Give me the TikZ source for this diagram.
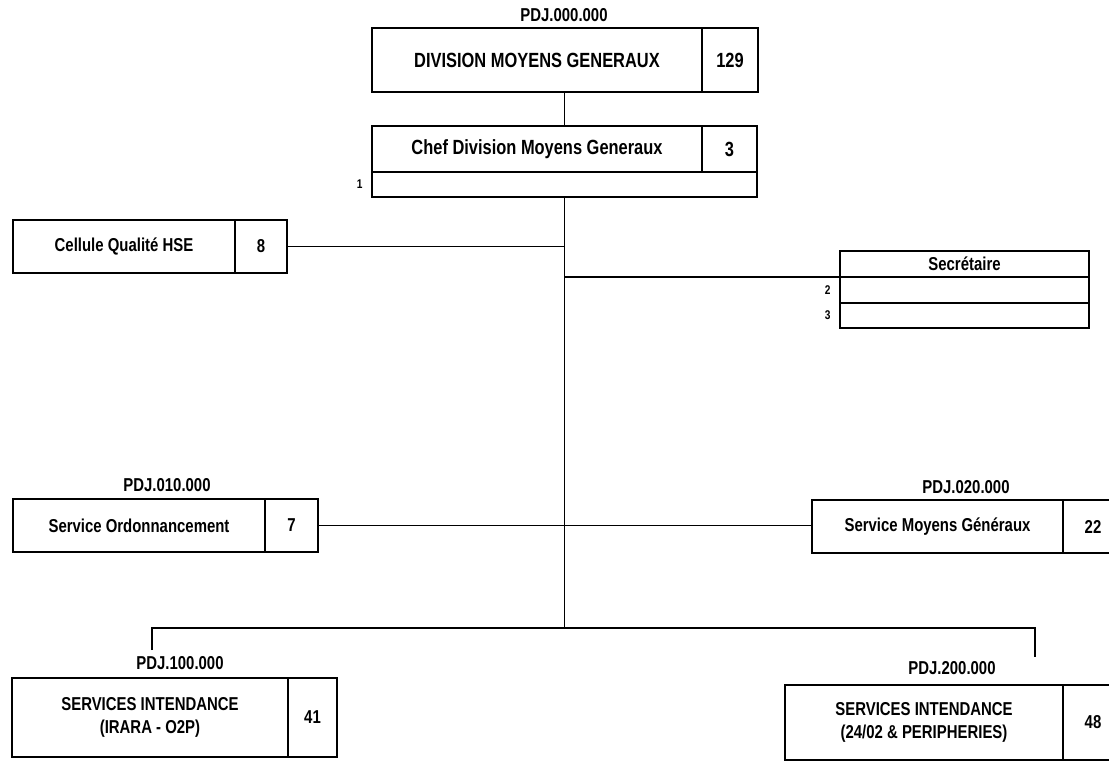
\documentclass[tikz,border=0pt]{standalone}
\usepackage{fontspec}
\setmainfont{Liberation Sans}[FakeStretch=0.8]
\usetikzlibrary{positioning,calc}

\newcommand\fsbox{\fontsize{14}{17}\selectfont\bfseries}
\newcommand\fshead{\fontsize{15.4}{18}\selectfont\bfseries}
\newcommand\fstag{\fontsize{9.5}{10}\selectfont\bfseries}

\begin{document}
\begin{tikzpicture}[
  x=0.75pt, y=-0.75pt,
  boxsize/.style 2 args={minimum width=#1*0.75pt, minimum height=#2*0.75pt},
  box/.style={draw, line width=1.7pt, inner sep=1pt, outer sep=0pt, align=center, font=\fsbox},
  headbox/.style={box, font=\fshead},
  row/.style={draw, line width=1.7pt, outer sep=0pt},
  code/.style={font=\fsbox, inner sep=0pt},
  tag/.style={font=\fstag, inner sep=0pt},
  link/.style={line width=1.1pt}
]
\useasboundingbox (0,0) rectangle (1109,765);
\clip (0,0) rectangle (1109,765);

% Division and its head.
\node[headbox, boxsize={330}{64}, anchor=north west] (div) at (372,28) {DIVISION MOYENS GENERAUX};
\node[headbox, boxsize={56}{64}, right=0pt of div] (divn) {129};
\node[code] at (564,15) {PDJ.000.000};

\node[headbox, boxsize={330}{46}, anchor=north west] (chef) at (372,126) {Chef Division Moyens Generaux};
\node[headbox, boxsize={55}{46}, right=0pt of chef] (chefn) {3};
\node[row, boxsize={385}{25}, anchor=north west] (chef1) at (chef.south west) {};
\node[tag, left=7pt of chef1] {1};

\draw[link] (div.south -| chef1.north) -- (chef1.north |- chef.north);

% Staff units on the trunk.
\node[box, boxsize={222}{53}, anchor=north west] (cel) at (13,220) {Cellule Qualité HSE};
\node[box, boxsize={52}{53}, right=0pt of cel] (celn) {8};

\node[box, boxsize={249}{26}, anchor=north west] (sec) at (840,251) {Secrétaire};
\node[row, boxsize={249}{26}, below=0pt of sec] (sec2) {};
\node[row, boxsize={249}{25}, below=0pt of sec2] (sec3) {};
\node[tag, left=7pt of sec2] {2};
\node[tag, left=7pt of sec3] {3};

% Services.
\node[box, boxsize={252}{53}, anchor=north west] (ord) at (13,499) {Service Ordonnancement};
\node[box, boxsize={53}{53}, right=0pt of ord] (ordn) {7};
\node[code] at (167,485) {PDJ.010.000};

\node[box, boxsize={251}{53}, anchor=north west] (smg) at (812,500) {Service Moyens Généraux};
\node[box, boxsize={60}{53}, right=0pt of smg] (smgn) {22};
\node[code] at (966,487) {PDJ.020.000};

\node[box, boxsize={276}{79}, anchor=north west] (intL) at (12,678) {SERVICES INTENDANCE\\(IRARA - O2P)};
\node[box, boxsize={49}{79}, right=0pt of intL] (intLn) {41};
\node[code] at (180,663) {PDJ.100.000};

\node[box, boxsize={278}{75}, anchor=north west] (intR) at (785,685) {SERVICES INTENDANCE\\(24/02 \& PERIPHERIES)};
\node[box, boxsize={60}{75}, right=0pt of intR] (intRn) {48};
\node[code] at (952,668) {PDJ.200.000};

% Trunk and branches.
\coordinate (busL) at (152,628);
\coordinate (busR) at (1035,628);
\coordinate (dropL) at (152,650);
\coordinate (dropR) at (1035,657);
\draw[link] (chef1.south) -- (chef1.south |- busL);
\draw[link] (celn.east) -- (celn.east -| chef1.south);
\draw[link] (sec.south west) -- (sec.south west -| chef1.south);
\draw[link] (ordn.east) -- (ordn.east -| smg.west);
\draw[link] (dropL) -- (busL) -- (busR) -- (dropR);
\end{tikzpicture}
\end{document}
